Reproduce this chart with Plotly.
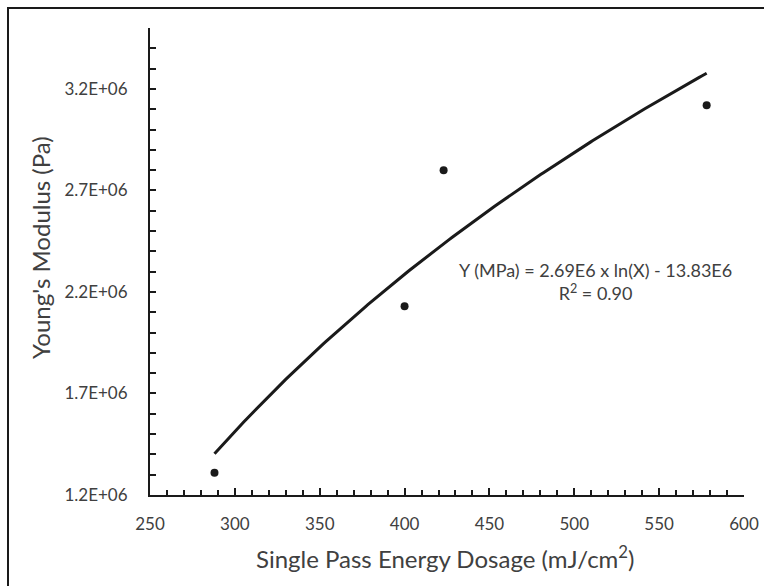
import numpy as np
import plotly.graph_objects as go

# Data
dosage = [288, 400, 423, 578]                 # mJ/cm^2
modulus = [1.31e6, 2.13e6, 2.80e6, 3.12e6]    # Pa

# Logarithmic trendline as stated on the chart: Y = a*ln(X) + b
fit_a = 2.69e6
fit_b = -13.83e6
fit_x = np.linspace(min(dosage), max(dosage), 200)
fit_y = fit_a * np.log(fit_x) + fit_b

x_ticks = [250, 300, 350, 400, 450, 500, 550, 600]
y_ticks = [1.2e6, 1.7e6, 2.2e6, 2.7e6, 3.2e6]
y_tick_labels = ["1.2E+06", "1.7E+06", "2.2E+06", "2.7E+06", "3.2E+06"]

FONT = "Lato, 'Open Sans', sans-serif"
TXT = "#404040"

L, R, T, B = 150, 20, 28, 91
W, H = 764, 586
PW, PH = W - L - R, H - T - B


def px(xp):
    return (xp - L) / PW


def py(yp):
    return (H - B - yp) / PH


fig = go.Figure()
fig.add_trace(go.Scatter(x=fit_x, y=fit_y, mode="lines",
                         line=dict(color="#1a1a1a", width=3), hoverinfo="skip"))
fig.add_trace(go.Scatter(x=dosage, y=modulus, mode="markers",
                         marker=dict(color="#1a1a1a", size=8)))

fig.update_layout(
    width=W, height=H,
    margin=dict(l=L, r=R, t=T, b=B),
    paper_bgcolor="white", plot_bgcolor="white",
    showlegend=False,
    font=dict(family=FONT, color=TXT),
    xaxis=dict(
        range=[250, 600], tickvals=x_ticks, showgrid=False, zeroline=False,
        automargin=False,
        showline=True, linecolor="#1a1a1a", linewidth=2,
        ticks="inside", ticklen=7, tickwidth=1.5, tickcolor="#1a1a1a",
        minor=dict(dtick=10, ticks="inside", ticklen=5, tickwidth=1.5, tickcolor="#1a1a1a"),
        tickfont=dict(size=17, color=TXT, family=FONT),
        ticklabelstandoff=13,
    ),
    yaxis=dict(
        range=[1.2e6, 3.5e6], tickvals=y_ticks, ticktext=y_tick_labels,
        showgrid=False, zeroline=False, automargin=False,
        showline=True, linecolor="#1a1a1a", linewidth=2,
        ticks="inside", ticklen=6, tickwidth=1.5, tickcolor="#1a1a1a",
        minor=dict(dtick=1e5, tick0=1.2e6, ticks="inside", ticklen=6, tickwidth=1.5, tickcolor="#1a1a1a"),
        tickfont=dict(size=17, color=TXT, family=FONT),
        ticklabelstandoff=17,
    ),
    annotations=[
        dict(text="Y (MPa) = 2.69E6 x ln(X) - 13.83E6<br>R<sup>2</sup> = 0.90",
             xref="paper", yref="paper", x=px(595), y=py(281),
             xanchor="center", yanchor="middle", showarrow=False, align="center",
             font=dict(size=18, color=TXT, family=FONT)),
        dict(text="Single Pass Energy Dosage (mJ/cm<sup>2</sup>)",
             xref="paper", yref="paper", x=px(445), y=py(557),
             xanchor="center", yanchor="middle", showarrow=False,
             font=dict(size=24, color=TXT, family=FONT)),
        dict(text="Young's Modulus (Pa)", textangle=-90,
             xref="paper", yref="paper", x=px(40), y=py(248),
             xanchor="center", yanchor="middle", showarrow=False,
             font=dict(size=24, color=TXT, family=FONT)),
    ],
    shapes=[
        dict(type="rect", xref="paper", yref="paper",
             x0=px(8), x1=px(790), y0=py(610), y1=py(8),
             line=dict(color="#1a1a1a", width=2), layer="below"),
    ],
)

fig.write_html("out.html")
